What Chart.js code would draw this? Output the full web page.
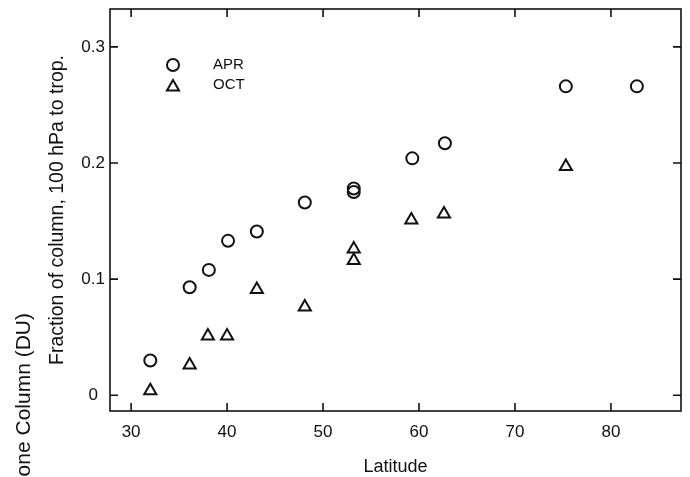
<!DOCTYPE html>
<html>
<head>
<meta charset="utf-8">
<script src="https://cdn.jsdelivr.net/npm/chart.js@4"></script>
<style>
  html, body { margin: 0; padding: 0; background: #fff; }
  #wrap { width: 690px; height: 477px; }
</style>
</head>
<body>
<div id="wrap"><canvas id="myChart" width="690" height="477"></canvas></div>
<script>
// values
var aprLat = [32, 36.1, 38.1, 40.1, 43.1, 48.1, 53.2, 53.2, 59.3, 62.7, 75.3, 82.7];
var aprFrac = [0.030, 0.093, 0.108, 0.133, 0.141, 0.166, 0.175, 0.178, 0.204, 0.217, 0.266, 0.266];
var octLat = [32, 36.1, 38.0, 40.0, 43.1, 48.1, 53.2, 53.2, 59.2, 62.6, 75.3];
var octFrac = [0.004, 0.026, 0.051, 0.051, 0.091, 0.076, 0.126, 0.116, 0.151, 0.156, 0.197];
var seriesNames = ["APR", "OCT"];

var FONT = "'Liberation Sans', Arial, Helvetica, sans-serif";

function toPoints(xs, ys) {
  return xs.map(function (v, i) { return { x: v, y: ys[i] }; });
}

// frame, inward ticks on all four sides, legend, clipped side label
var frame = {
  id: 'frame',
  afterDraw: function (chart) {
    var ctx = chart.ctx, a = chart.chartArea;
    var x = chart.scales.x, y = chart.scales.y;
    ctx.save();
    ctx.strokeStyle = '#111';
    ctx.lineWidth = 1.6;
    ctx.strokeRect(a.left, a.top, a.right - a.left, a.bottom - a.top);
    ctx.beginPath();
    x.ticks.forEach(function (t) {
      var px = x.getPixelForValue(t.value);
      ctx.moveTo(px, a.bottom); ctx.lineTo(px, a.bottom - 8);
      ctx.moveTo(px, a.top); ctx.lineTo(px, a.top + 8);
    });
    y.ticks.forEach(function (t) {
      var py = y.getPixelForValue(t.value);
      ctx.moveTo(a.left, py); ctx.lineTo(a.left + 8, py);
      ctx.moveTo(a.right, py); ctx.lineTo(a.right - 8, py);
    });
    ctx.stroke();

    // legend
    ctx.font = '15px ' + FONT;
    ctx.textBaseline = 'middle';
    ctx.textAlign = 'left';
    chart.data.datasets.forEach(function (ds, i) {
      var ly = 65 + i * 20;
      ctx.fillStyle = 'rgba(0,0,0,0)';
      ctx.strokeStyle = '#111';
      ctx.lineWidth = ds.borderWidth;
      Chart.helpers.drawPoint(ctx, {
        pointStyle: ds.pointStyle, radius: ds.pointRadius,
        borderWidth: ds.borderWidth
      }, 173, ly + (ds.pointStyle === 'triangle' ? 2 : 0));
      ctx.fillStyle = '#111';
      ctx.fillText(ds.label, 213, ly);
    });

    // cut-off label from the neighbouring panel
    ctx.font = '21px ' + FONT;
    ctx.translate(24, 313);
    ctx.rotate(-Math.PI / 2);
    ctx.textAlign = 'right';
    ctx.fillText('Ozone Column (DU)', 0, 0);
    ctx.restore();
  }
};

var ctx = document.getElementById('myChart');
var myChart = new Chart(ctx, {
  type: 'scatter',
  data: {
    datasets: [{
      label: seriesNames[0],
      data: toPoints(aprLat, aprFrac),
      pointStyle: 'circle',
      pointRadius: 6,
      borderWidth: 2,
      borderColor: '#111',
      backgroundColor: 'rgba(0,0,0,0)'
    },
    {
      label: seriesNames[1],
      data: toPoints(octLat, octFrac),
      pointStyle: 'triangle',
      pointRadius: 7,
      borderWidth: 2,
      borderColor: '#111',
      backgroundColor: 'rgba(0,0,0,0)'
    }]
  },
  options: {
    responsive: false,
    animation: false,
    events: [],
    layout: { padding: { top: -3, right: 8, left: 0, bottom: 0 } },
    plugins: {
      legend: { display: false },
      tooltip: { enabled: false }
    },
    scales: {
      x: {
        type: 'linear',
        min: 27.8,
        max: 87.3,
        grid: { display: false },
        border: { display: false },
        ticks: {
          stepSize: 10,
          includeBounds: false,
          maxRotation: 0,
          padding: 3,
          color: '#111',
          font: { family: FONT, size: 17 }
        },
        title: {
          display: true,
          text: 'Latitude',
          color: '#111',
          padding: { top: 0, bottom: -1 },
          font: { family: FONT, size: 18 }
        },
        afterFit: function (s) { s.height = 66; }
      },
      y: {
        min: -0.0135,
        max: 0.3326,
        grid: { display: false },
        border: { display: false },
        ticks: {
          stepSize: 0.1,
          includeBounds: false,
          crossAlign: 'center',
          padding: -3,
          color: '#111',
          font: { family: FONT, size: 17 },
          callback: function (v) { return Math.abs(v) < 1e-9 ? '0' : v.toFixed(1); }
        },
        title: {
          display: true,
          text: 'Fraction of column, 100 hPa to trop.',
          color: '#111',
          padding: { top: 46, bottom: 0 },
          font: { family: FONT, size: 19.5 }
        },
        afterFit: function (s) { s.width = 110; }
      }
    }
  },
  plugins: [frame]
});
</script>
</body>
</html>
